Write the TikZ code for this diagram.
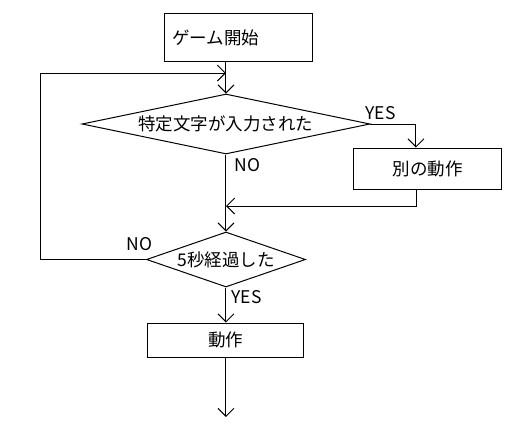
\documentclass[tikz,border=0pt]{standalone}
\usepackage{fontspec}
\setmainfont{Noto Sans CJK JP}
\usetikzlibrary{shapes.geometric,arrows.meta,calc}

\begin{document}
\begin{tikzpicture}[x=0.5pt, y=-0.5pt, line width=0.5pt,
    nodes={font=\fontsize{8.75pt}{10pt}\selectfont, inner sep=0},
    box/.style={draw, rectangle},
    decision/.style={draw, diamond},
    flow/.style={-{Straight Barb[length=4pt, width=8pt]}},
    lbl/.style={anchor=west}]
  \useasboundingbox (0,0) rectangle (527,434);
  \node[box, anchor=north west, text width=66pt, inner xsep=4pt,
        minimum height=24pt, align=left] (start) at (164,13) {ゲーム開始};
  \node[decision, aspect=4.8, minimum width=144pt,
        minimum height=30pt] (q1) at (226,124) {特定文字が入力された};
  \node[box, minimum width=74pt, minimum height=20.5pt] (act2) at (428,168.5) {別の動作};
  \node[decision, aspect=2.9, minimum width=79.5pt,
        minimum height=27.5pt] (q2) at (226,259.5) {5秒経過した};
  \node[box, minimum width=78pt, minimum height=17pt] (act3) at (226,340) {動作};
  \coordinate (join) at (226,73);
  \coordinate (merge) at (226,206);
  \coordinate (loopx) at (41,0);
  \coordinate (end) at (226,417);
  \node[lbl] (yes1) at (365,113) {YES};
  \node[lbl] (no1) at (234,165) {NO};
  \node[lbl] (no2) at (126,244) {NO};
  \node[lbl] (yes2) at (231,297) {YES};
  \draw[flow] (start.south -| q1.north) -- (q1.north);
  \draw[flow] (q1.east) -| ($(act2.north)+(-12,0)$);
  \draw[flow] ($(act2.south)+(-11,0)$) |- (merge);
  \draw[flow] (q1.south) -- (q2.north);
  \draw[flow] (q2.west) -- (q2.west -| loopx) |- (join);
  \draw[flow] (q2.south) -- (act3.north);
  \draw[flow] (act3.south) -- (end);
\end{tikzpicture}
\end{document}
